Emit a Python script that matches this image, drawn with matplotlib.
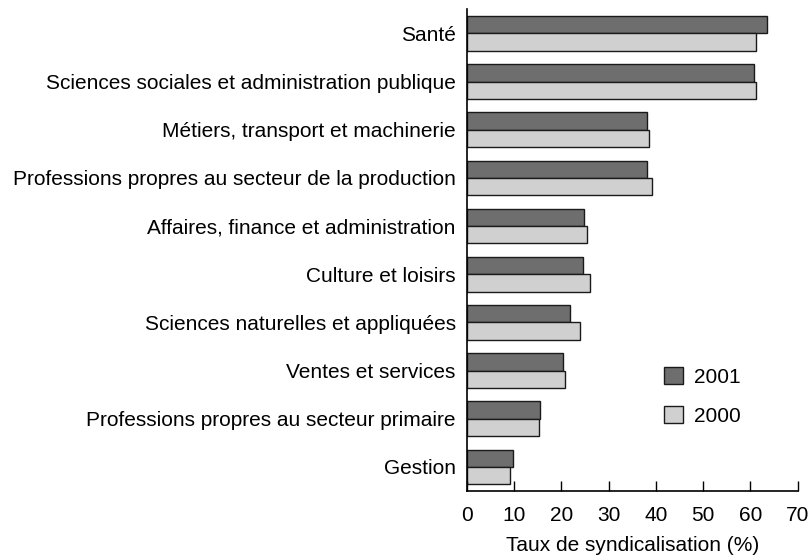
import numpy as np
import matplotlib.pyplot as plt

plt.rcParams['font.family'] = ['Liberation Sans', 'DejaVu Sans']

categories = [
    "Santé",
    "Sciences sociales et administration publique",
    "Métiers, transport et machinerie",
    "Professions propres au secteur de la production",
    "Affaires, finance et administration",
    "Culture et loisirs",
    "Sciences naturelles et appliquées",
    "Ventes et services",
    "Professions propres au secteur primaire",
    "Gestion",
]
taux_2001 = [63.6, 60.7, 38.2, 38.0, 24.7, 24.5, 21.9, 20.3, 15.4, 9.7]
taux_2000 = [61.2, 61.2, 38.5, 39.1, 25.5, 26.1, 23.9, 20.8, 15.2, 9.2]
xticks = [0, 10, 20, 30, 40, 50, 60, 70]

fs = 15

fig = plt.figure(figsize=(8.12, 5.56), dpi=100)
ax = fig.add_axes([0.5751, 0.1169, 0.4073, 0.8664])

y = np.arange(len(categories))
h = 0.36
ax.barh(y - h / 2, taux_2001, height=h, color="#6e6e6e", edgecolor="#1a1a1a",
        linewidth=1.0, label="2001")
ax.barh(y + h / 2, taux_2000, height=h, color="#d0d0d0", edgecolor="#1a1a1a",
        linewidth=1.0, label="2000")

ax.set_ylim(len(categories) - 0.5, -0.5)
ax.set_xlim(0, 70)
ax.set_yticks(y)
ax.set_yticklabels(categories, fontsize=fs)
ax.tick_params(axis="y", length=0, pad=8)
ax.set_xticks(xticks)
ax.tick_params(axis="x", direction="in", length=7.5, width=1, labelsize=fs, pad=10.5)
ax.set_xlabel("Taux de syndicalisation (%)", fontsize=fs, labelpad=8)

for side in ["top", "right"]:
    ax.spines[side].set_visible(False)
for side in ["left", "bottom"]:
    ax.spines[side].set_linewidth(1.2)

ax.legend(loc="upper left", bbox_to_anchor=(0.57, 0.275), frameon=False,
          fontsize=fs, handlelength=0.92, handleheight=0.92, labelspacing=0.9,
          handletextpad=0.55, borderaxespad=0)

fig.savefig("out.png", dpi=100)
